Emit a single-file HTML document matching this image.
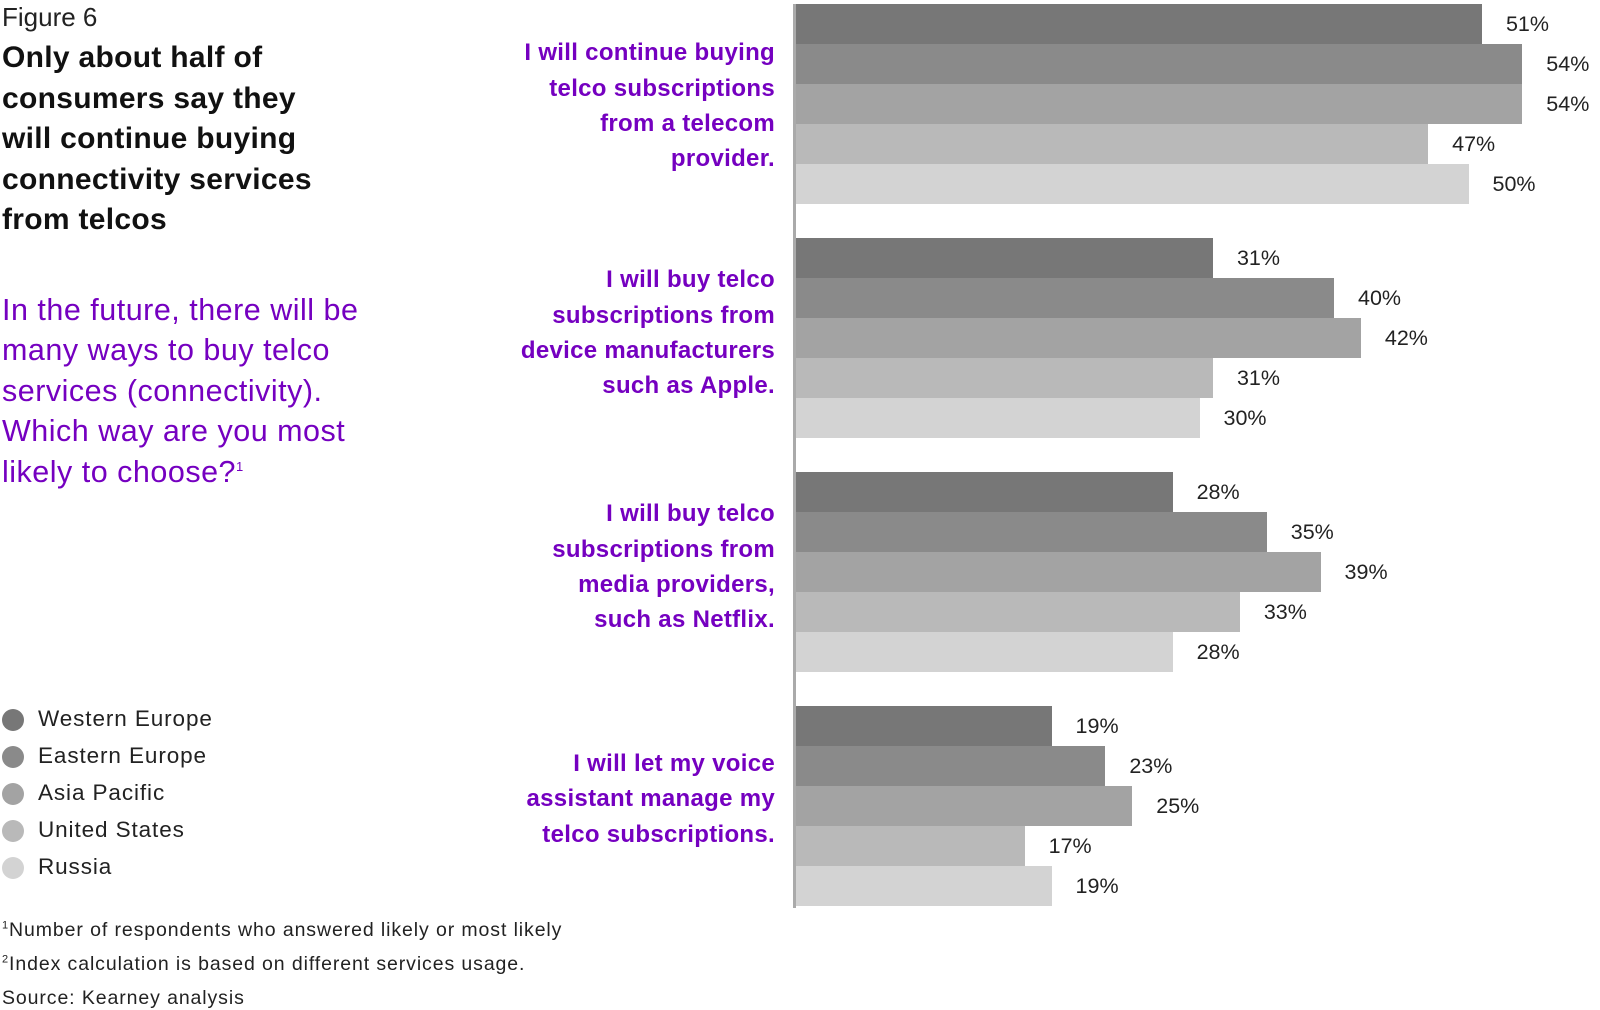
<!DOCTYPE html>
<html><head><meta charset="utf-8"><style>
body{margin:0;width:1600px;height:1010px;background:#fff;font-family:"Liberation Sans",sans-serif;position:relative;overflow:hidden}
.a{position:absolute;white-space:nowrap}
.cat{position:absolute;right:825px;text-align:right;color:#7500c0;font-weight:bold;font-size:24px;letter-spacing:0.3px;line-height:35.3px}
.val{position:absolute;font-size:21.5px;color:#222}
.leg{position:absolute;left:2px;font-size:22.5px;letter-spacing:0.9px;color:#222}
.leg i{display:inline-block;width:22px;height:22px;border-radius:50%;vertical-align:middle;margin-right:14px}
.fn{position:absolute;left:2px;font-size:19.5px;letter-spacing:0.9px;color:#222}
sup{line-height:0}
</style></head><body>
<div class="a" style="left:2px;top:2px;font-size:26px;color:#222">Figure 6</div>
<div class="a" style="left:2px;top:38px;font-size:30px;font-weight:bold;line-height:40.5px;color:#111;letter-spacing:0.3px">Only about half of<br>consumers say they<br>will continue buying<br>connectivity services<br>from telcos</div>
<div class="a" style="left:2px;top:290px;font-size:30.5px;line-height:40.4px;color:#7500c0;letter-spacing:0.5px">In the future, there will be<br>many ways to buy telco<br>services (connectivity).<br>Which way are you most<br>likely to choose?<sup style="font-size:13px">1</sup></div>
<div id="legend"></div>
<div class="fn" style="top:919px"><sup style="font-size:11px">1</sup>Number of respondents who answered likely or most likely</div>
<div class="fn" style="top:953px"><sup style="font-size:11px">2</sup>Index calculation is based on different services usage.</div>
<div class="fn" style="top:987px">Source: Kearney analysis</div>
<div style="position:absolute;left:793px;top:4px;width:3px;height:904px;background:#aaa"></div>
<div id="chart"></div>
<script>
const categories=["I will continue buying<br>telco subscriptions<br>from a telecom<br>provider.","I will buy telco<br>subscriptions from<br>device manufacturers<br>such as Apple.","I will buy telco<br>subscriptions from<br>media providers,<br>such as Netflix.","I will let my voice<br>assistant manage my<br>telco subscriptions."];
const regions=["Western Europe","Eastern Europe","Asia Pacific","United States","Russia"];
const westernEurope=[51,31,28,19];
const easternEurope=[54,40,35,23];
const asiaPacific=[54,42,39,25];
const unitedStates=[47,31,33,17];
const russia=[50,30,28,19];
const series=[westernEurope,easternEurope,asiaPacific,unitedStates,russia];
const colors=["#777777","#8a8a8a","#a3a3a3","#b9b9b9","#d3d3d3"];
const x0=796,pxPer=13.45,barH=40,groupTop=[4,238,472,706],labelNudge=[8,1,1,-1];
const xs=v=>v*pxPer;
const chart=document.getElementById('chart');
categories.forEach((c,g)=>{
  const l=document.createElement('div');l.className='cat';
  
  
  l.innerHTML=c;
  const lines=c.split('<br>').length;
  l.style.top=(groupTop[g]+94+labelNudge[g]-lines*35.3/2)+'px';
  chart.appendChild(l);
  series.forEach((s,i)=>{
    const b=document.createElement('div');
    
    
    b.style.cssText=`position:absolute;left:${x0}px;top:${groupTop[g]+i*barH}px;width:${xs(s[g])}px;height:${barH}px;background:${colors[i]}`;
    chart.appendChild(b);
    const t=document.createElement('div');t.className='val';
    
    
    t.textContent=s[g]+'%';
    t.style.left=(x0+xs(s[g])+24)+'px';
    t.style.top=(groupTop[g]+i*barH+8)+'px';
    chart.appendChild(t);
  });
});
const lg=document.getElementById('legend');
const legTop=[706,743,780,817,854];
regions.forEach((r,i)=>{
  const d=document.createElement('div');d.className='leg';
  
  
  d.style.top=legTop[i]+'px';
  d.innerHTML=`<i style="background:${colors[i]}"></i>${r}`;
  lg.appendChild(d);
});
</script>
</body></html>
